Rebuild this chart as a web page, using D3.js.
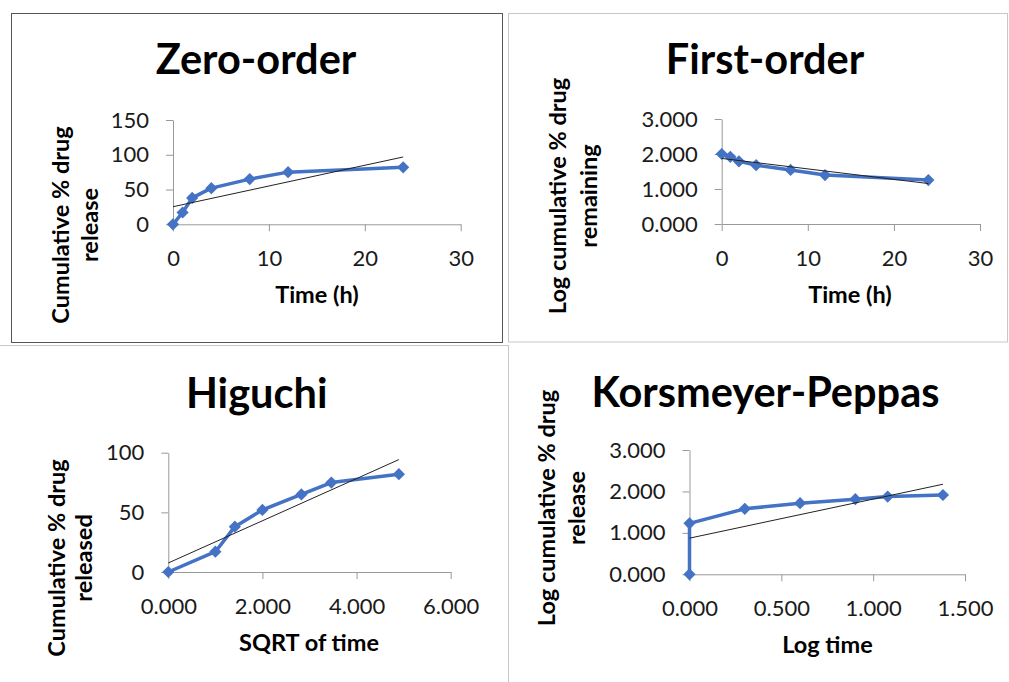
<!DOCTYPE html>
<html>
<head>
<meta charset="utf-8">
<script src="https://cdn.jsdelivr.net/npm/d3@7"></script>
<style>
  body { margin: 0; background: #fff; }
  svg { display: block; font-family: Lato, "Liberation Sans", sans-serif; }
</style>
</head>
<body>
<svg id="chart" width="1009" height="682"></svg>
<script>
// values
var timeH = [0, 1, 2, 4, 8, 12, 24];
var released = [0, 17, 38, 52, 65, 75, 82];
var sqrtTime = [0, 1, 1.414, 2, 2.828, 3.464, 4.899];
var logRemaining = [2.000, 1.919, 1.792, 1.681, 1.544, 1.398, 1.255];
var logTime = [0, 0, 0.301, 0.602, 0.903, 1.079, 1.380];
var logReleased = [0, 1.230, 1.580, 1.716, 1.813, 1.875, 1.914];

var panels = [
  { title: "Zero-order", xs: timeH, ys: released,
    xDomain: [0, 30], xRange: [173, 460.7], yDomain: [0, 150], yRange: [224.3, 120],
    xTicks: [0, 10, 20, 30], yTicks: [0, 50, 100, 150], xFmt: "d", yFmt: "d",
    titlePos: [256, 74], xTitle: "Time (h)", xTitlePos: [317, 303],
    yTitle: ["Cumulative % drug", "release"], yTitleX: [61, 90], yTitleY: 225 },
  { title: "First-order", xs: timeH, ys: logRemaining,
    xDomain: [0, 30], xRange: [721.7, 980], yDomain: [0, 3], yRange: [224, 119],
    xTicks: [0, 10, 20, 30], yTicks: [0, 1, 2, 3], xFmt: "d", yFmt: ".3f",
    titlePos: [765, 74], xTitle: "Time (h)", xTitlePos: [850, 303],
    yTitle: ["Log cumulative % drug", "remaining"], yTitleX: [558, 589], yTitleY: 196 },
  { title: "Higuchi", xs: sqrtTime, ys: released,
    xDomain: [0, 6], xRange: [168.3, 450.7], yDomain: [0, 100], yRange: [572, 452.7],
    xTicks: [0, 2, 4, 6], yTicks: [0, 50, 100], xFmt: ".3f", yFmt: "d",
    titlePos: [256.7, 408], xTitle: "SQRT of time", xTitlePos: [309, 651],
    yTitle: ["Cumulative % drug", "released"], yTitleX: [56.7, 84], yTitleY: 558 },
  { title: "Korsmeyer-Peppas", xs: logTime, ys: logReleased,
    xDomain: [0, 1.5], xRange: [689.5, 965], yDomain: [0, 3], yRange: [574.3, 450],
    xTicks: [0, 0.5, 1, 1.5], yTicks: [0, 1, 2, 3], xFmt: ".3f", yFmt: ".3f",
    titlePos: [765.5, 407], xTitle: "Log time", xTitlePos: [827.5, 653],
    yTitle: ["Log cumulative % drug", "release"], yTitleX: [547, 577], yTitleY: 508 }
];

var svg = d3.select("#chart");
svg.append("rect").attr("width", 1009).attr("height", 682).attr("fill", "#fff");

// panel frames
svg.append("rect").attr("x", 11.5).attr("y", 13.5).attr("width", 491).attr("height", 329)
  .attr("fill", "none").attr("stroke", "#555");
svg.append("rect").attr("x", 508.5).attr("y", 13.5).attr("width", 499).attr("height", 328.5)
  .attr("fill", "none").attr("stroke", "#c8c8c8");
svg.append("line").attr("x1", 0).attr("x2", 508).attr("y1", 345.5).attr("y2", 345.5)
  .attr("stroke", "#c8c8c8");
svg.append("line").attr("x1", 508.5).attr("x2", 508.5).attr("y1", 345).attr("y2", 682)
  .attr("stroke", "#c8c8c8");

// least squares trendline, like Excel's linear trendline
function fit(xs, ys) {
  var mx = d3.mean(xs), my = d3.mean(ys);
  var sxy = d3.sum(xs, function(x, i) { return (x - mx) * (ys[i] - my); });
  var sxx = d3.sum(xs, function(x) { return (x - mx) * (x - mx); });
  var b = sxy / sxx;
  return { a: my - b * mx, b: b };
}

panels.forEach(function(p) {
  var g = svg.append("g");
  var x = d3.scaleLinear().domain(p.xDomain).range(p.xRange);
  var y = d3.scaleLinear().domain(p.yDomain).range(p.yRange);

  g.append("text")
    .attr("x", p.titlePos[0]).attr("y", p.titlePos[1])
    .attr("text-anchor", "middle")
    .style("font-size", "41.5px").style("font-weight", "bold").style("fill", "#000")
    .text(p.title);

  var ya = g.append("g")
    .attr("transform", "translate(" + x(0) + ",0)")
    .call(d3.axisLeft(y).tickValues(p.yTicks).tickFormat(d3.format(p.yFmt))
      .tickSize(7).tickSizeOuter(0).tickPadding(17));
  var xa = g.append("g")
    .attr("transform", "translate(0," + y(0) + ")")
    .call(d3.axisBottom(x).tickValues(p.xTicks).tickFormat(d3.format(p.xFmt))
      .tickSize(7).tickSizeOuter(0).tickPadding(19));
  [ya, xa].forEach(function(a) {
    a.select(".domain").attr("stroke", "#999");
    a.selectAll(".tick line").attr("stroke", "#999");
    a.selectAll(".tick text").style("font-size", "22px").style("fill", "#1a1a1a")
      .style("font-family", "Lato, sans-serif");
  });

  g.append("text")
    .attr("x", p.xTitlePos[0]).attr("y", p.xTitlePos[1])
    .attr("text-anchor", "middle")
    .style("font-size", "23.5px").style("font-weight", "bold").style("fill", "#000")
    .text(p.xTitle);

  p.yTitle.forEach(function(t, i) {
    g.append("text")
      .attr("transform", "translate(" + p.yTitleX[i] + "," + p.yTitleY + ") rotate(-90)")
      .attr("text-anchor", "middle").attr("dy", "0.35em")
      .style("font-size", "23.5px").style("font-weight", "bold").style("fill", "#000")
      .text(t);
  });

  var pts = p.xs.map(function(v, i) { return [v, p.ys[i]]; });
  var line = d3.line().x(function(d) { return x(d[0]); }).y(function(d) { return y(d[1]); });

  g.append("path").datum(pts).attr("d", line)
    .attr("fill", "none").attr("stroke", "#4472C4").attr("stroke-width", 3.5)
    .attr("stroke-linejoin", "round");

  g.selectAll(".mk").data(pts).enter().append("path")
    .attr("transform", function(d) { return "translate(" + x(d[0]) + "," + y(d[1]) + ")"; })
    .attr("d", d3.symbol().type(d3.symbolDiamond2).size(95))
    .attr("fill", "#4472C4");

  var f = fit(p.xs, p.ys);
  var x0 = d3.min(p.xs), x1 = d3.max(p.xs);
  g.append("line")
    .attr("x1", x(x0)).attr("y1", y(f.a + f.b * x0))
    .attr("x2", x(x1)).attr("y2", y(f.a + f.b * x1))
    .attr("stroke", "#222").attr("stroke-width", 1);
});
</script>
</body>
</html>
